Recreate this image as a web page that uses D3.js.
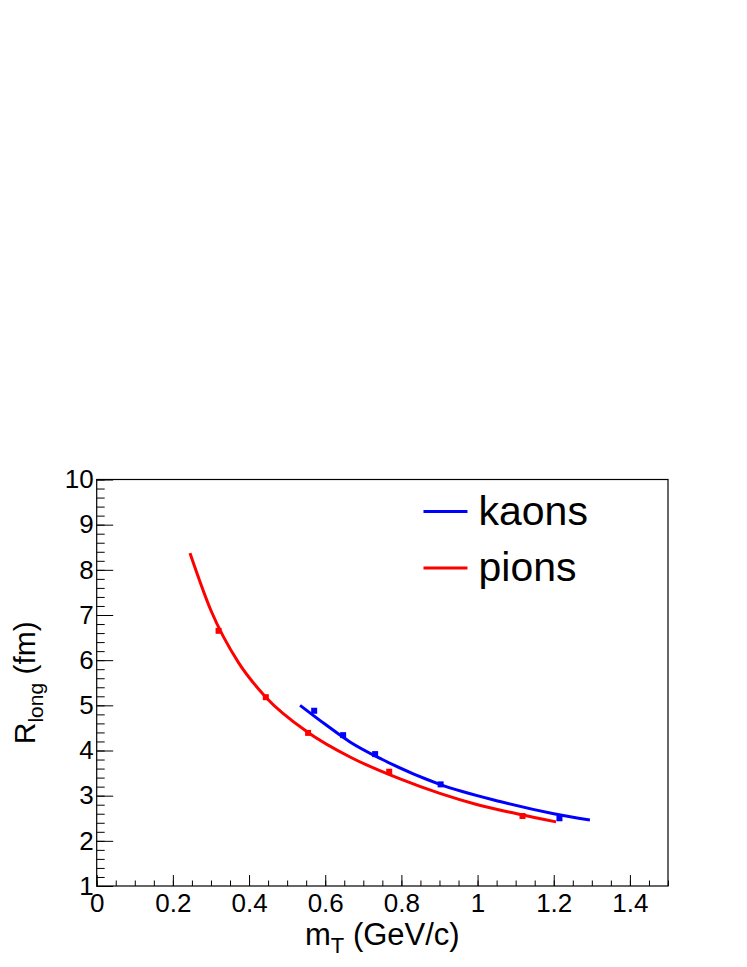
<!DOCTYPE html>
<html>
<head>
<meta charset="utf-8">
<script src="https://cdn.jsdelivr.net/npm/d3@7"></script>
<style>
  body { margin: 0; background: #fff; }
  text { font-family: "Liberation Sans", Arial, sans-serif; }
</style>
</head>
<body>
<script>
// Measured points (squares)
const pionMt = [0.320, 0.444, 0.555, 0.768, 1.118];
const pionR  = [6.65, 5.18, 4.39, 3.53, 2.55];
const kaonMt = [0.571, 0.647, 0.731, 0.903, 1.215];
const kaonR  = [4.88, 4.34, 3.92, 3.25, 2.50];

// Fit curves
const pionFitMt = [0.245, 0.300, 0.372, 0.444, 0.555, 0.669, 0.800, 0.901, 1.000, 1.103, 1.206];
const pionFitR  = [8.37, 7.10, 5.95, 5.18, 4.40, 3.84, 3.36, 3.05, 2.80, 2.60, 2.42];
const kaonFitMt = [0.534, 0.600, 0.665, 0.750, 0.901, 1.059, 1.200, 1.295];
const kaonFitR  = [5.00, 4.58, 4.19, 3.80, 3.25, 2.87, 2.60, 2.46];

const xTicks = [0, 0.2, 0.4, 0.6, 0.8, 1, 1.2, 1.4];
const yTicks = [1, 2, 3, 4, 5, 6, 7, 8, 9, 10];
const legendNames = ["kaons", "pions"];
const legendColors = ["#0000ff", "#ff0000"];

const W = 747, H = 967;
const margin = { top: 479.5, right: 79, bottom: 81, left: 96.7 };
const width = W - margin.left - margin.right;
const height = H - margin.top - margin.bottom;

const svg = d3.select("body").append("svg")
    .attr("width", W)
    .attr("height", H);

const g = svg.append("g")
    .attr("transform", "translate(" + margin.left + "," + margin.top + ")");

const x = d3.scaleLinear().domain([0, 1.5]).range([0, width]);
const y = d3.scaleLinear().domain([1, 10]).range([height, 0]);

// minor ticks
g.append("g")
    .attr("transform", "translate(0," + height + ")")
    .call(d3.axisBottom(x).tickValues(d3.range(0, 1.5001, 0.05)).tickSize(-5.5).tickSizeOuter(0).tickFormat(""))
    .call(a => a.select(".domain").remove());
g.append("g")
    .call(d3.axisLeft(y).tickValues(d3.range(1, 10.001, 0.2)).tickSize(-8).tickSizeOuter(0).tickFormat(""))
    .call(a => a.select(".domain").remove());

// major ticks + labels
const xAxis = g.append("g")
    .attr("transform", "translate(0," + height + ")")
    .call(d3.axisBottom(x).tickValues(xTicks).tickSize(-11).tickSizeOuter(0).tickPadding(8).tickFormat(d3.format("")))
    .call(a => a.select(".domain").remove());
xAxis.selectAll("text").style("font-size", "26px").attr("fill", "#000");

const yAxis = g.append("g")
    .call(d3.axisLeft(y).tickValues(yTicks).tickSize(-16.5).tickSizeOuter(0).tickPadding(3).tickFormat(d3.format("")))
    .call(a => a.select(".domain").remove());
yAxis.selectAll("text").style("font-size", "26px").attr("fill", "#000");

g.selectAll(".tick line").attr("stroke", "#000").attr("stroke-width", 1);

// frame
g.append("rect")
    .attr("width", width)
    .attr("height", height)
    .attr("fill", "none")
    .attr("stroke", "#000")
    .attr("stroke-width", 1.2);

// fit curves
const line = d3.line()
    .x(d => x(d[0]))
    .y(d => y(d[1]))
    .curve(d3.curveMonotoneX);

g.append("path")
    .datum(d3.zip(pionFitMt, pionFitR))
    .attr("d", line)
    .attr("fill", "none")
    .attr("stroke", "#ff0000")
    .attr("stroke-width", 3);

g.append("path")
    .datum(d3.zip(kaonFitMt, kaonFitR))
    .attr("d", line)
    .attr("fill", "none")
    .attr("stroke", "#0000ff")
    .attr("stroke-width", 3);

// markers
const ms = 6;
g.selectAll(".pion")
    .data(d3.zip(pionMt, pionR))
    .enter().append("rect")
    .attr("class", "pion")
    .attr("x", d => x(d[0]) - ms / 2)
    .attr("y", d => y(d[1]) - ms / 2)
    .attr("width", ms)
    .attr("height", ms)
    .attr("fill", "#ff0000");

g.selectAll(".kaon")
    .data(d3.zip(kaonMt, kaonR))
    .enter().append("rect")
    .attr("class", "kaon")
    .attr("x", d => x(d[0]) - ms / 2)
    .attr("y", d => y(d[1]) - ms / 2)
    .attr("width", ms)
    .attr("height", ms)
    .attr("fill", "#0000ff");

// axis titles
const xt = svg.append("text")
    .attr("x", margin.left + width / 2)
    .attr("y", 945)
    .attr("text-anchor", "middle")
    .style("font-size", "31px");
xt.append("tspan").text("m");
xt.append("tspan").attr("dy", 8).style("font-size", "22px").text("T");
xt.append("tspan").attr("dy", -8).text(" (GeV/c)");

const yt = svg.append("text")
    .attr("transform", "rotate(-90)")
    .attr("x", -(margin.top + height / 2))
    .attr("y", 35)
    .attr("text-anchor", "middle")
    .style("font-size", "30px");
yt.append("tspan").text("R");
yt.append("tspan").attr("dy", 8).style("font-size", "21px").text("long");
yt.append("tspan").attr("dy", -8).text(" (fm)");

// legend
const legend = g.append("g")
    .attr("transform", "translate(" + (width * 0.572) + ",32)");

legendNames.forEach((name, i) => {
    legend.append("line")
        .attr("x1", 0)
        .attr("x2", 44)
        .attr("y1", i * 56.5)
        .attr("y2", i * 56.5)
        .attr("stroke", legendColors[i])
        .attr("stroke-width", 3);
    legend.append("text")
        .attr("x", 55)
        .attr("y", i * 56.5 + 13)
        .style("font-size", "41px")
        .text(name);
});
</script>
</body>
</html>
